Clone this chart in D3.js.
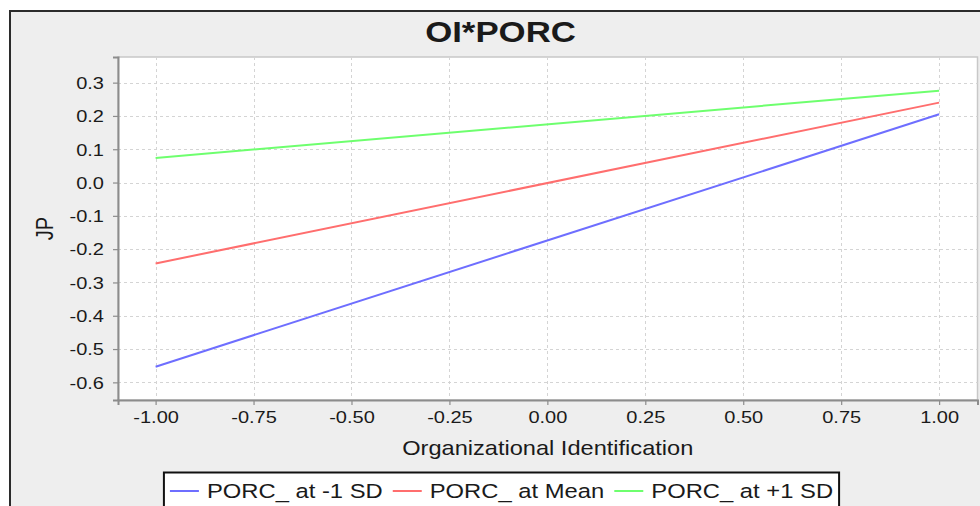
<!DOCTYPE html>
<html>
<head>
<meta charset="utf-8">
<script src="https://cdn.jsdelivr.net/npm/d3@7"></script>
<style>
  html, body { margin: 0; padding: 0; background: #ffffff; }
  svg { display: block; }
  text { font-family: "Liberation Sans", Arial, sans-serif; fill: #1a1a1a; }
</style>
</head>
<body>
<svg id="chart" width="980" height="506"></svg>
<script>
// ---------- data ----------
const chartTitle = "OI*PORC";
const xLabel = "Organizational Identification";
const yLabel = "JP";
const xValues = [-1, 1];
const seriesNames = ["PORC_ at -1 SD", "PORC_ at Mean", "PORC_ at +1 SD"];
const porcMinus1SD = [-0.553, 0.205];
const porcMean = [-0.243, 0.240];
const porcPlus1SD = [0.074, 0.276];
const xTicks = [-1.00, -0.75, -0.50, -0.25, 0.00, 0.25, 0.50, 0.75, 1.00];
const yTicks = [-0.6, -0.5, -0.4, -0.3, -0.2, -0.1, 0.0, 0.1, 0.2, 0.3];
const seriesColors = ["#6e6eff", "#ff6e6e", "#6eff6e"];

// ---------- layout ----------
const svg = d3.select("#chart");
const plot = { left: 118, top: 57, right: 977.5, bottom: 400 };

// outer panel
svg.append("rect").attr("x", 10).attr("y", 11).attr("width", 1000).attr("height", 600)
  .attr("fill", "#eeeeee").attr("stroke", "#2b2b2b").attr("stroke-width", 2);

const x = d3.scaleLinear().domain([-1.096, 1.098]).range([plot.left, plot.right]);
const y = d3.scaleLinear().domain([-0.653, 0.377]).range([plot.bottom, plot.top]);

const locale = d3.formatLocale({ decimal: ".", thousands: ",", grouping: [3], currency: ["", ""], minus: "-" });
const fx = locale.format(".2f");
const fy = locale.format(".1f");

// plot background
svg.append("rect").attr("x", plot.left).attr("y", plot.top)
  .attr("width", plot.right - plot.left).attr("height", plot.bottom - plot.top)
  .attr("fill", "#ffffff").attr("stroke", "#c8c8c8").attr("stroke-width", 1.5);

// gridlines
const grid = svg.append("g").attr("stroke", "#d4d4d4").attr("stroke-width", 1).attr("stroke-dasharray", "3,3");
grid.selectAll(".gx").data(xTicks).join("line")
  .attr("x1", d => Math.round(x(d)) + 0.5).attr("x2", d => Math.round(x(d)) + 0.5)
  .attr("y1", plot.top).attr("y2", plot.bottom);
grid.selectAll(".gy").data(yTicks).join("line")
  .attr("y1", d => Math.round(y(d)) + 0.5).attr("y2", d => Math.round(y(d)) + 0.5)
  .attr("x1", plot.left).attr("x2", plot.right);

// axes
const TICK_SX = 1.25;
const yAxis = svg.append("g").attr("transform", `translate(${plot.left},0)`)
  .call(d3.axisLeft(y).tickValues(yTicks).tickFormat(fy).tickSize(5).tickPadding(9));
const xAxis = svg.append("g").attr("transform", `translate(0,${plot.bottom})`)
  .call(d3.axisBottom(x).tickValues(xTicks).tickFormat(fx).tickSize(5).tickPadding(9));

[xAxis, yAxis].forEach(ax => {
  ax.select(".domain").attr("stroke", "#8c8c8c").attr("stroke-width", 2);
  ax.selectAll(".tick line").attr("stroke", "#8c8c8c").attr("stroke-width", 1.2);
  ax.selectAll(".tick text").attr("font-size", 16).attr("fill", "#1a1a1a")
    .style("font-family", "'Liberation Sans', Arial, sans-serif");
});
yAxis.selectAll(".tick text").attr("x", 0).attr("dy", "0.36em")
  .attr("transform", `translate(-14,0) scale(${TICK_SX},1)`);
xAxis.selectAll(".tick text").attr("y", 0).attr("dy", 0)
  .attr("transform", `translate(0,23) scale(${TICK_SX},1)`);

// lines
const seriesData = [porcMinus1SD, porcMean, porcPlus1SD];
const line = d3.line().x((d, i) => x(xValues[i])).y(d => y(d));
svg.append("g").selectAll("path").data(seriesData).join("path")
  .attr("d", d => line(d)).attr("fill", "none")
  .attr("stroke", (d, i) => seriesColors[i]).attr("stroke-width", 2);

// title
svg.append("text").attr("transform", "translate(500.5,41.5) scale(1.2,1)")
  .attr("text-anchor", "middle").attr("font-size", 29).attr("font-weight", "bold")
  .attr("fill", "#000").text(chartTitle);

// axis titles
svg.append("text").attr("transform", `translate(${(plot.left + plot.right) / 2},455) scale(1.18,1)`)
  .attr("text-anchor", "middle").attr("font-size", 20).text(xLabel);
svg.append("text").attr("transform", `translate(53,${(plot.top + plot.bottom) / 2}) rotate(-90) scale(1,1.2)`)
  .attr("text-anchor", "middle").attr("font-size", 20).text(yLabel);

// legend
const legend = svg.append("g");
const legendBox = legend.append("rect").attr("y", 472.5).attr("height", 60)
  .attr("fill", "#ffffff").attr("stroke", "#111").attr("stroke-width", 2);
const LEG_SX = 1.22;
let cx = 0;
const items = [];
seriesNames.forEach((name, i) => {
  const g = legend.append("g");
  g.append("line").attr("x1", cx).attr("x2", cx + 29).attr("y1", 491).attr("y2", 491)
    .attr("stroke", seriesColors[i]).attr("stroke-width", 2);
  const t = g.append("text").attr("transform", `translate(${cx + 37},497.5) scale(${LEG_SX},1)`)
    .attr("font-size", 19.5).text(name);
  const w = t.node().getComputedTextLength() * LEG_SX;
  cx = cx + 37 + w + 10;
  items.push(g);
});
const totalW = cx - 10;
const legLeft = 501.5 - (totalW + 12) / 2;
items.forEach(g => g.attr("transform", `translate(${legLeft + 6},0)`));
legendBox.attr("x", legLeft).attr("width", totalW + 12);
</script>
</body>
</html>
